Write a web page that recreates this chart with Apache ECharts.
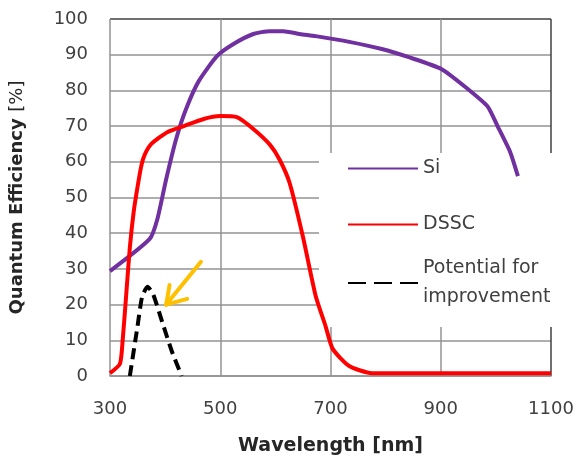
<!DOCTYPE html>
<html>
<head>
<meta charset="utf-8">
<script src="https://cdn.jsdelivr.net/npm/echarts@6/dist/echarts.min.js"></script>
<style>html,body{margin:0;padding:0;background:#fff}#c{width:579px;height:461px}</style>
</head>
<body>
<div id="c"></div>
<script>
// Wavelength (nm) / quantum efficiency (%) pairs
const siWave = [300, 372, 386, 402, 420, 438, 461, 494, 524, 560, 590, 614, 644, 673, 734, 793, 842, 901, 949, 985, 1003, 1026, 1040];
const siQE   = [29.4, 38.4, 44, 55.2, 66.4, 74.8, 82.6, 89.6, 93, 95.8, 96.6, 96.6, 95.8, 95.2, 93.6, 91.6, 89.3, 86, 80.4, 75.5, 70, 62.7, 56];
const dsscWave = [300, 318, 323, 330, 336, 343, 350, 357, 363, 375, 404, 434, 470, 500, 530, 560, 590, 608, 626, 650, 673, 691, 704, 734, 775, 1100];
const dsscQE   = [0.8, 3.4, 10, 24, 36, 46, 53, 59, 62, 65, 68.3, 70, 72, 72.8, 72.5, 69.2, 64.8, 60.5, 54, 39, 22.5, 14, 7.6, 2.8, 0.8, 0.8];
const potWave = [336, 350, 358, 368, 378, 395, 412, 430];
const potQE   = [0, 14, 22, 25, 23, 15, 7, 0];
// annotation arrow: shaft tail, tip, and the two arm ends
const arrowTail = [465, 32];
const arrowTip = [402, 20];
const arrowArmA = [408, 25.5];
const arrowArmB = [440, 21.6];
const xTicks = [300, 500, 700, 900, 1100];
const yTicks = [0, 10, 20, 30, 40, 50, 60, 70, 80, 90, 100];
const seriesNames = ['Si', 'DSSC', 'Potential for\nimprovement'];

const zip = (a, b) => a.map((v, i) => [v, b[i]]);
const grey = '#939393', dark = '#404040';
const font = 'DejaVu Sans';

const chart = echarts.init(document.getElementById('c'));
chart.setOption({
  animation: false,
  grid: { left: 104, right: 28, top: 19, bottom: 84, containLabel: false },
  xAxis: {
    type: 'value', min: xTicks[0], max: xTicks[xTicks.length - 1], interval: 200,
    name: 'Wavelength [nm]', nameLocation: 'middle', nameGap: 61,
    nameTextStyle: { fontFamily: font, fontWeight: 'bold', fontSize: 19, color: '#262626' },
    axisLine: { show: true, lineStyle: { color: grey, width: 1.5 } },
    axisTick: { show: false },
    axisLabel: { margin: 24, fontFamily: font, fontSize: 18, color: dark, formatter: v => String(v) },
    splitLine: { show: true, lineStyle: { color: xTicks.map((t, i) => i === xTicks.length - 1 ? dark : grey), width: 1.5 } }
  },
  yAxis: {
    type: 'value', min: yTicks[0], max: yTicks[yTicks.length - 1], interval: 10,
    name: '{b|Quantum Efficiency}  {n|[%]}', nameLocation: 'middle', nameGap: 84, nameRotate: 90,
    nameTextStyle: { rich: {
      b: { fontFamily: font, fontWeight: 'bold', fontSize: 18, color: '#262626' },
      n: { fontFamily: font, fontSize: 18, color: '#262626' } } },
    axisLine: { show: false },
    axisTick: { show: false },
    axisLabel: { margin: 22, fontFamily: font, fontSize: 18, color: dark },
    splitLine: { show: true, lineStyle: { color: yTicks.map((t, i) => i === yTicks.length - 1 ? dark : grey), width: 1.5 } }
  },
  graphic: [{
    type: 'rect', left: 319, top: 153, z: 3,
    shape: { width: 260, height: 174 }, style: { fill: '#ffffff' }
  }],
  legend: [{
    data: [seriesNames[0], seriesNames[1]], orient: 'vertical', left: 347, top: 154,
    itemWidth: 70, itemHeight: 14, itemGap: 27, padding: 0,
    itemStyle: { opacity: 0 },
    textStyle: { fontFamily: font, fontSize: 19, color: dark, lineHeight: 29 }
  }, {
    data: [{ name: seriesNames[2], lineStyle: { type: [18, 8] } }], orient: 'vertical', left: 347, top: 239.5,
    itemWidth: 70, itemHeight: 14, padding: 0,
    itemStyle: { opacity: 0 },
    textStyle: { fontFamily: font, fontSize: 19, color: dark, lineHeight: 29, padding: [29, 0, 0, 0] }
  }],
  series: [{
    name: seriesNames[0], type: 'line', data: zip(siWave, siQE), symbol: 'none', smooth: 0.2,
    lineStyle: { color: '#7030A0', width: 4 }, itemStyle: { color: '#7030A0' }
  }, {
    name: seriesNames[1], type: 'line', data: zip(dsscWave, dsscQE), symbol: 'none', smooth: 0.2,
    lineStyle: { color: '#FF0000', width: 4 }, itemStyle: { color: '#FF0000' }
  }, {
    name: seriesNames[2], type: 'line', data: zip(potWave, potQE), symbol: 'none', smooth: 0.2,
    lineStyle: { color: '#000000', width: 4, type: [11, 6] }, itemStyle: { color: '#000000' },
    markLine: {
      silent: true, animation: false,
      symbol: ['none', 'none'],
      label: { show: false },
      lineStyle: { color: '#FFC000', width: 4, type: 'solid', cap: 'round' },
      data: [
        [{ coord: arrowTail }, { coord: arrowTip }],
        [{ coord: arrowTip }, { coord: arrowArmA }],
        [{ coord: arrowTip }, { coord: arrowArmB }]
      ]
    }
  }]
});
</script>
</body>
</html>
